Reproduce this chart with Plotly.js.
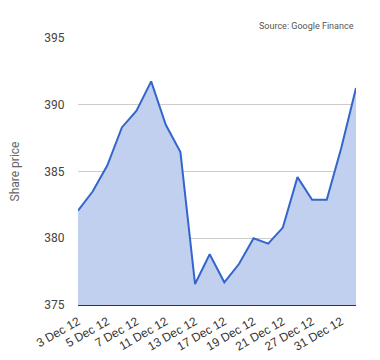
<!DOCTYPE html>
<html>
<head>
<meta charset="utf-8">
<script src="https://cdn.plot.ly/plotly-3.0.1.min.js"></script>
<style>html,body{margin:0;padding:0;background:#fff;}</style>
</head>
<body>
<div id="chart" style="width:380px;height:360px;"></div>
<script>
const dates = ["3 Dec 12","4 Dec 12","5 Dec 12","6 Dec 12","7 Dec 12","10 Dec 12","11 Dec 12","12 Dec 12","13 Dec 12","14 Dec 12","17 Dec 12","18 Dec 12","19 Dec 12","20 Dec 12","21 Dec 12","26 Dec 12","27 Dec 12","28 Dec 12","31 Dec 12","2 Jan 13"];
const prices = [382.07,383.5,385.45,388.3,389.55,391.75,388.5,386.45,376.57,378.8,376.7,378.07,380.0,379.6,380.8,384.58,382.88,382.88,386.8,391.25];
const shownTicks = ["3 Dec 12","5 Dec 12","7 Dec 12","11 Dec 12","13 Dec 12","17 Dec 12","19 Dec 12","21 Dec 12","27 Dec 12","31 Dec 12"];
const yTicks = [375,380,385,390,395];
const sourceText = "Source: Google Finance";
const yTitle = "Share price";

const trace = {
  x: dates, y: prices, type: 'scatter', mode: 'lines',
  fill: 'tozeroy', fillcolor: 'rgb(193,208,238)',
  line: {color: 'rgb(51,102,204)', width: 2},
  hoverinfo: 'x+y'
};
const layout = {
  width: 380, height: 360,
  margin: {l: 78, r: 24, t: 38, b: 55},
  paper_bgcolor: '#fff', plot_bgcolor: '#fff',
  font: {family: 'Roboto, Arial, sans-serif', color: '#444', size: 12},
  showlegend: false,
  xaxis: {
    type: 'category', range: [0, dates.length - 1],
    tickvals: shownTicks, ticktext: shownTicks, tickangle: -30,
    showgrid: false, showline: true, linecolor: '#333', linewidth: 1,
    ticks: 'outside', ticklen: 4, tickcolor: 'rgba(0,0,0,0)',
    tickfont: {family: 'Liberation Sans, Arial, sans-serif', size: 12, color: '#333'}, fixedrange: true
  },
  yaxis: {
    range: [375, 395], tickvals: yTicks, ticktext: yTicks.map(String),
    showgrid: true, gridcolor: '#ccc', gridwidth: 1, zeroline: false,
    showline: false, ticks: 'outside', ticklen: 10, tickcolor: 'rgba(0,0,0,0)',
    tickfont: {size: 12, color: '#444'},
    title: {text: yTitle, font: {size: 12, color: '#666'}, standoff: 22},
    fixedrange: true
  },
  annotations: [{
    text: sourceText, xref: 'paper', yref: 'paper', x: 1, y: 1,
    xanchor: 'right', yanchor: 'bottom', yshift: 5, showarrow: false,
    font: {size: 9, color: '#555'}
  }]
};
Plotly.newPlot('chart', [trace], layout, {displayModeBar: false, staticPlot: true});
</script>
</body>
</html>
